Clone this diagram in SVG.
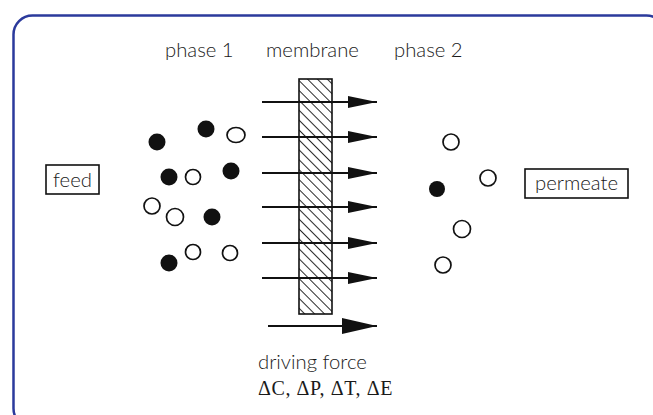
<svg xmlns="http://www.w3.org/2000/svg" width="653" height="415" viewBox="0 0 653 415">
<defs>
<style>
.lbl{font-family:Lato,"Liberation Sans",sans-serif;font-weight:300;font-size:20.3px;fill:#1a1a1a}
.box{fill:#fff;stroke:#111;stroke-width:1.6}
.f{fill:#111}
.o{fill:#fff;stroke:#111;stroke-width:1.7}
.ar{stroke:#111;stroke-width:1.8;fill:none}
</style>
<pattern id="hatch" patternUnits="userSpaceOnUse" width="7" height="7" patternTransform="rotate(-45)">
<rect width="7" height="7" fill="#fff"/>
<line x1="0" y1="0" x2="0" y2="7" stroke="#111" stroke-width="1.8"/>
</pattern>
<marker id="ah" markerWidth="30" markerHeight="14" refX="29" refY="6" orient="auto" markerUnits="userSpaceOnUse">
<path d="M0,0 L29,6 L0,12 Z" fill="#111"/>
</marker>
<marker id="ah2" markerWidth="36" markerHeight="18" refX="35" refY="8" orient="auto" markerUnits="userSpaceOnUse">
<path d="M0,0 L35,8 L0,16 Z" fill="#111"/>
</marker>
</defs>
<rect x="13.5" y="15.5" width="652" height="412" rx="19" fill="#fff" stroke="#2b3a9c" stroke-width="2.5"/>

<text class="lbl" x="165" y="57">phase 1</text>
<text class="lbl" x="266" y="57">membrane</text>
<text class="lbl" x="394" y="57">phase 2</text>

<g id="membrane">
<rect x="299" y="79" width="33" height="235" fill="url(#hatch)" stroke="#111" stroke-width="1.6"/>
</g>

<g id="connectors">
<line class="ar" x1="262" y1="102" x2="377" y2="102" marker-end="url(#ah)"/>
<line class="ar" x1="262" y1="137" x2="377" y2="137" marker-end="url(#ah)"/>
<line class="ar" x1="262" y1="173" x2="377" y2="173" marker-end="url(#ah)"/>
<line class="ar" x1="262" y1="207" x2="377" y2="207" marker-end="url(#ah)"/>
<line class="ar" x1="262" y1="243" x2="377" y2="243" marker-end="url(#ah)"/>
<line class="ar" x1="262" y1="278" x2="377" y2="278" marker-end="url(#ah)"/>
<line class="ar" x1="268" y1="326" x2="377" y2="326" marker-end="url(#ah2)"/>
</g>

<g id="phase1">
<circle class="f" cx="157" cy="142" r="8.5"/>
<circle class="f" cx="206" cy="129" r="8.5"/>
<ellipse class="o" cx="236" cy="135" rx="9" ry="7.5"/>
<circle class="f" cx="169" cy="177" r="8.5"/>
<circle class="o" cx="193" cy="177" r="7.5"/>
<circle class="f" cx="231" cy="171" r="8.5"/>
<circle class="o" cx="152" cy="206" r="8"/>
<circle class="o" cx="175" cy="217" r="8.5"/>
<circle class="f" cx="212" cy="217" r="8.5"/>
<circle class="o" cx="193" cy="252" r="7.5"/>
<circle class="o" cx="230" cy="253" r="7.5"/>
<circle class="f" cx="169" cy="263" r="8.5"/>
</g>

<g id="phase2">
<circle class="o" cx="451" cy="142" r="8"/>
<circle class="o" cx="488" cy="178" r="8"/>
<circle class="f" cx="437" cy="189" r="8"/>
<circle class="o" cx="462" cy="229" r="8.5"/>
<circle class="o" cx="443" cy="265" r="8"/>
</g>

<g id="feed">
<rect class="box" x="46" y="165" width="53" height="29"/>
<text class="lbl" x="72.5" y="187" text-anchor="middle">feed</text>
</g>

<g id="permeate">
<rect class="box" x="525" y="169" width="103" height="29"/>
<text class="lbl" x="576.5" y="190" text-anchor="middle">permeate</text>
</g>

<g id="driving">
<text class="lbl" x="258" y="369">driving force</text>
<text x="258" y="395" style="font-family:'Liberation Serif',serif;font-size:20px;letter-spacing:0.6px;fill:#1a1a1a">ΔC, ΔP, ΔT, ΔE</text>
</g>
</svg>
